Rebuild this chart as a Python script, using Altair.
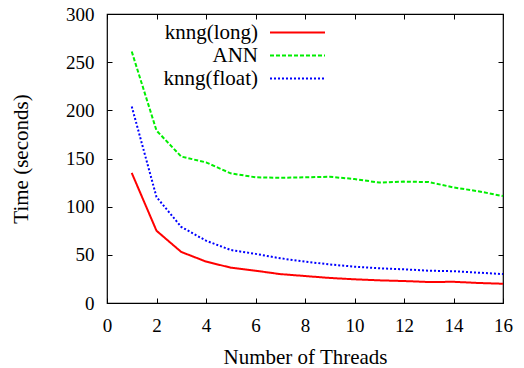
import altair as alt
import pandas as pd

threads = list(range(1, 17))
knng_long = [135, 75, 53, 43, 36.7, 33.5, 30, 28, 26, 24.6, 23.5, 22.8, 21.8, 22, 20.8, 20]
ann = [261, 179, 152, 146, 134.6, 130.5, 130, 130.5, 131, 128.7, 125, 126, 125.5, 120, 116, 111]
knng_float = [204, 110, 79, 64.7, 55, 51, 46.4, 43, 40, 37.7, 36, 35, 33.5, 33, 31.5, 30]

series_names = ["knng(long)", "ANN", "knng(float)"]
series_colors = ["#ff0000", "#00ee00", "#0000ff"]
series_dashes = [[1, 0], [4, 2], [2, 2]]
x_ticks = list(range(0, 17, 2))
y_ticks = list(range(0, 301, 50))

rows = []
for name, vals in zip(series_names, [knng_long, ann, knng_float]):
    for t, v in zip(threads, vals):
        rows.append({"threads": t, "time": v, "series": name})
df = pd.DataFrame(rows)

FONT = "Liberation Serif"
W, H = 396, 289

xscale = alt.Scale(domain=[0, 16], nice=False, zero=False)
yscale = alt.Scale(domain=[0, 300], nice=False)

base = alt.Chart(df).mark_line(strokeWidth=2).encode(
    x=alt.X("threads:Q", scale=xscale,
            axis=alt.Axis(orient="bottom", values=x_ticks, title="Number of Threads",
                          tickSize={"expr": "-5"}, labelPadding=18, titlePadding=11,
                          grid=False, domain=False, tickColor="black")),
    y=alt.Y("time:Q", scale=yscale,
            axis=alt.Axis(orient="left", values=y_ticks, title="Time (seconds)",
                          tickSize={"expr": "-5"}, labelPadding=18, titlePadding=34,
                          grid=False, domain=False, tickColor="black")),
    color=alt.Color("series:N",
                    scale=alt.Scale(domain=series_names, range=series_colors),
                    legend=alt.Legend(title=None, orient="none", legendX=180, legendY=8,
                                      symbolType="M-5,0H5", symbolSize=121,
                                      symbolStrokeWidth=2, labelAlign="right",
                                      labelOffset={"expr": "-50"},
                                      rowPadding=1, padding=0,
                                      labelFont=FONT, labelFontSize=21,
                                      labelColor="black", labelLimit=300)),
    strokeDash=alt.StrokeDash("series:N",
                              scale=alt.Scale(domain=series_names, range=series_dashes),
                              legend=alt.Legend(title=None)),
)

mirror = alt.Chart(df).mark_line(strokeOpacity=0).encode(
    x=alt.X("threads:Q", scale=xscale,
            axis=alt.Axis(orient="top", values=x_ticks, title=None, labels=False,
                          tickSize={"expr": "-5"}, grid=False, domain=False,
                          tickColor="black")),
    y=alt.Y("time:Q", scale=yscale,
            axis=alt.Axis(orient="right", values=y_ticks, title=None, labels=False,
                          tickSize={"expr": "-5"}, grid=False, domain=False,
                          tickColor="black")),
    detail="series:N",
)

chart = alt.layer(base, mirror).resolve_axis(
    x="independent", y="independent"
).properties(
    width=W, height=H,
    autosize=alt.AutoSizeParams(type="none"),
    padding={"left": 99, "top": 6, "right": 13, "bottom": 65},
).configure_view(
    stroke="black", strokeWidth=1.2
).configure_axis(
    labelFont=FONT, labelFontSize=19, labelColor="black",
    titleFont=FONT, titleFontSize=21, titleFontWeight="normal", titleColor="black",
    labelFlush=False, labelOverlap=False,
)

chart.save("out.html", embed_options={"renderer": "svg", "actions": False})
